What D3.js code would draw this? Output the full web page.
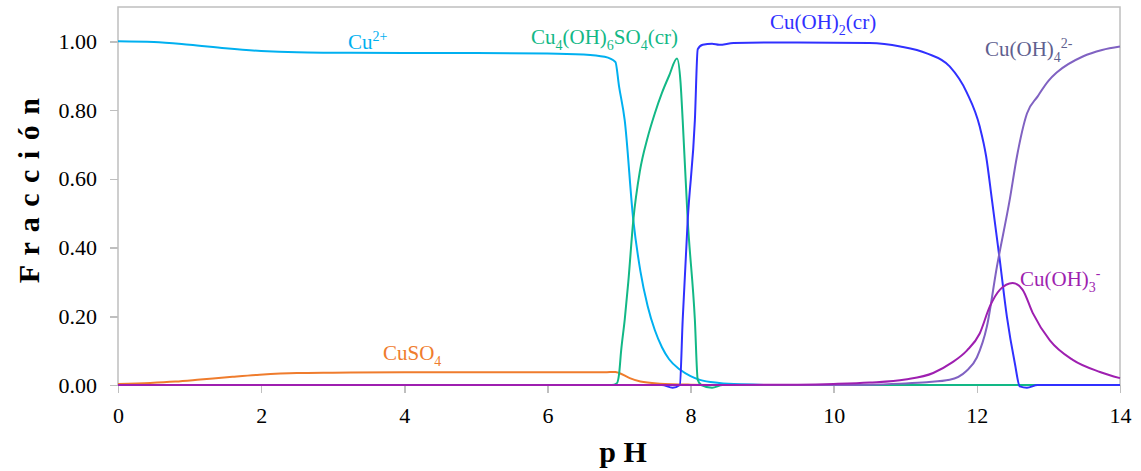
<!doctype html>
<html>
<head>
    <meta charset="utf-8">
    <style>
        body {
            margin: 0;
            background: white;
        }

        svg {
            font-family: "Liberation Serif", serif;
        }

        .axis line, .axis path {
            stroke: #bfbfbf;
            stroke-width: 1.5;
            shape-rendering: crispEdges;
        }

        .title {
            font-size: 30px;
            font-weight: bold;
            fill: #000;
        }

        .series {
            fill: none;
            stroke-width: 2;
        }

        .lbl {
            font-size: 21px;
        }
    </style>
    <script src="https://d3js.org/d3.v7.min.js"></script>
</head>
<body>
<script>
    // pH / fraction pairs
    const cu2 = [[0, 1.0], [0.5, 0.998], [1, 0.99], [1.5, 0.98], [2, 0.972], [2.5, 0.968], [3, 0.967], [4, 0.966],
        [5, 0.966], [6, 0.965], [6.5, 0.962], [6.8, 0.955], [6.95, 0.94], [7.0, 0.87], [7.08, 0.77], [7.2, 0.48],
        [7.3, 0.33], [7.4, 0.23], [7.5, 0.16], [7.6, 0.11], [7.7, 0.075], [7.85, 0.045], [8.0, 0.026],
        [8.13, 0.015], [8.4, 0.006], [8.7, 0.002], [9.2, 0], [14, 0]]
    const cuso4 = [[0, 0.003], [0.45, 0.006], [0.8, 0.01], [1.15, 0.016], [1.6, 0.024], [1.98, 0.03], [2.5, 0.035],
        [3, 0.036], [4, 0.037], [5, 0.037], [6, 0.037], [6.8, 0.037], [6.95, 0.038], [7.0, 0.035], [7.15, 0.02],
        [7.3, 0.01], [7.57, 0.004], [8, 0.001], [8.5, 0], [14, 0]]
    const basic = [[0, 0], [6.9, 0], [6.97, 0.005], [7.0, 0.03], [7.03, 0.1], [7.08, 0.19], [7.13, 0.3],
        [7.2, 0.48], [7.29, 0.62], [7.4, 0.72], [7.5, 0.79], [7.6, 0.85], [7.7, 0.9], [7.81, 0.95], [7.86, 0.88],
        [7.89, 0.77], [7.96, 0.48], [8.06, 0.19], [8.1, 0.015], [8.15, 0], [8.3, -0.008], [8.45, 0], [14, 0]]
    const hydrox = [[0, 0], [7.6, 0], [7.75, -0.008], [7.85, 0], [7.89, 0.19], [7.96, 0.48], [8.06, 0.77],
        [8.1, 0.977], [8.17, 0.99], [8.3, 0.993], [8.4, 0.99], [8.6, 0.995], [9.5, 0.997], [10.5, 0.995],
        [10.93, 0.985], [11.3, 0.965], [11.62, 0.927], [11.86, 0.851], [12.04, 0.752], [12.13, 0.665],
        [12.21, 0.54], [12.32, 0.364], [12.42, 0.198], [12.53, 0.064], [12.6, -0.004], [12.7, -0.008],
        [12.85, 0], [14, 0]]
    const tetra = [[0, 0], [10, 0], [10.5, 0.001], [10.93, 0.004], [11.3, 0.008], [11.62, 0.015], [11.85, 0.04],
        [12.0, 0.08], [12.14, 0.17], [12.28, 0.344], [12.46, 0.54], [12.56, 0.665], [12.7, 0.79], [12.85, 0.84],
        [13.0, 0.885], [13.12, 0.91], [13.48, 0.956], [13.75, 0.975], [14, 0.985]]
    const tri = [[0, 0], [8.5, 0], [9.5, 0.001], [10, 0.003], [10.5, 0.007], [11, 0.016], [11.39, 0.035],
        [11.65, 0.065], [11.86, 0.1], [12.04, 0.15], [12.18, 0.228], [12.32, 0.277], [12.5, 0.297],
        [12.64, 0.277], [12.78, 0.21], [13.02, 0.13], [13.34, 0.073], [13.72, 0.038], [14, 0.02]]

    const seriesList = [
        {data: cu2, color: '#00b0f0'},
        {data: cuso4, color: '#ef7c2d'},
        {data: basic, color: '#12b886'},
        {data: hydrox, color: '#3030ff'},
        {data: tetra, color: '#8062c2'},
        {data: tri, color: '#9e1fb0'}
    ]

    const xTicks = [0, 2, 4, 6, 8, 10, 12, 14]
    const yTicks = [0, 0.2, 0.4, 0.6, 0.8, 1.0]

    const W = 1141, H = 471
    const m = {left: 118, right: 21, top: 7, bottom: 86}

    const svg = d3.select('body').append('svg')
        .attr('width', W)
        .attr('height', H)

    const x = d3.scaleLinear().domain([0, 14]).range([m.left, W - m.right])
    const y = d3.scaleLinear().domain([0, 1.1]).range([H - m.bottom, m.top])

    // frame (left, top, right)
    svg.append('path')
        .attr('d', `M${x(0)},${y(0)}V${y(1.1)}H${x(14)}V${y(0)}`)
        .attr('fill', 'none')
        .attr('stroke', '#bfbfbf')
        .attr('stroke-width', 1.5)

    // axes drawn with d3, then their default font attrs dropped so the page serif applies
    function styleAxis(g) {
        g.attr('font-family', null).attr('font-size', null)
        g.selectAll('text')
            .attr('font-family', 'Liberation Serif')
            .attr('font-size', 22)
            .attr('fill', '#000')
    }

    const yAxis = svg.append('g')
        .attr('class', 'axis')
        .attr('transform', `translate(${m.left},0)`)
        .call(d3.axisLeft(y).tickValues(yTicks).tickFormat(d3.format('.2f')).tickSize(8).tickPadding(13))
    yAxis.select('.domain').remove()
    styleAxis(yAxis)

    const xAxis = svg.append('g')
        .attr('class', 'axis')
        .attr('transform', `translate(0,${y(0)})`)
        .call(d3.axisBottom(x).tickValues(xTicks).tickFormat(d3.format('d')).tickSize(8).tickPadding(14))
    styleAxis(xAxis)

    const line = d3.line()
        .x(d => x(d[0]))
        .y(d => y(d[1]))
        .curve(d3.curveMonotoneX)

    seriesList.forEach(s => {
        svg.append('path')
            .attr('class', 'series')
            .attr('d', line(s.data))
            .attr('stroke', s.color)
    })

    // axis titles
    svg.append('text')
        .attr('class', 'title')
        .attr('text-anchor', 'middle')
        .attr('letter-spacing', 1.5)
        .attr('transform', `translate(39,${(y(0) + y(1.1)) / 2 - 6}) rotate(-90)`)
        .text('F r a c c i ó n')

    svg.append('text')
        .attr('class', 'title')
        .attr('text-anchor', 'middle')
        .attr('x', (x(0) + x(14)) / 2 + 4)
        .attr('y', 462)
        .text('p H')

    // series labels: parts are [text, kind, dy]
    function label(parts, px, py, color) {
        const t = svg.append('text')
            .attr('class', 'lbl')
            .attr('x', px)
            .attr('y', py)
            .attr('fill', color)
        parts.forEach(p => {
            const ts = t.append('tspan').text(p[0])
            if (p[1] === 'sub') ts.attr('font-size', 14).attr('dy', p[2] || 6)
            if (p[1] === 'sup') ts.attr('font-size', 14).attr('dy', p[2] || -8)
            if (p[1] === 'back') ts.attr('dy', p[2])
        })
    }

    label([['Cu'], ['2+', 'sup']], 348, 49, '#00b0f0')
    label([['CuSO'], ['4', 'sub']], 383, 360, '#ef7c2d')
    label([['Cu'], ['4', 'sub'], ['(OH)', 'back', -6], ['6', 'sub'], ['SO', 'back', -6], ['4', 'sub'], ['(cr)', 'back', -6]], 531, 44, '#12b886')
    label([['Cu(OH)'], ['2', 'sub'], ['(cr)', 'back', -6]], 770, 29, '#3030ff')
    label([['Cu(OH)'], ['4', 'sub'], ['2-', 'sup', -14]], 985, 56, '#5f5f8f')
    label([['Cu(OH)'], ['3', 'sub'], ['-', 'sup', -14]], 1020, 286, '#9e1fb0')
</script>
</body>
</html>
